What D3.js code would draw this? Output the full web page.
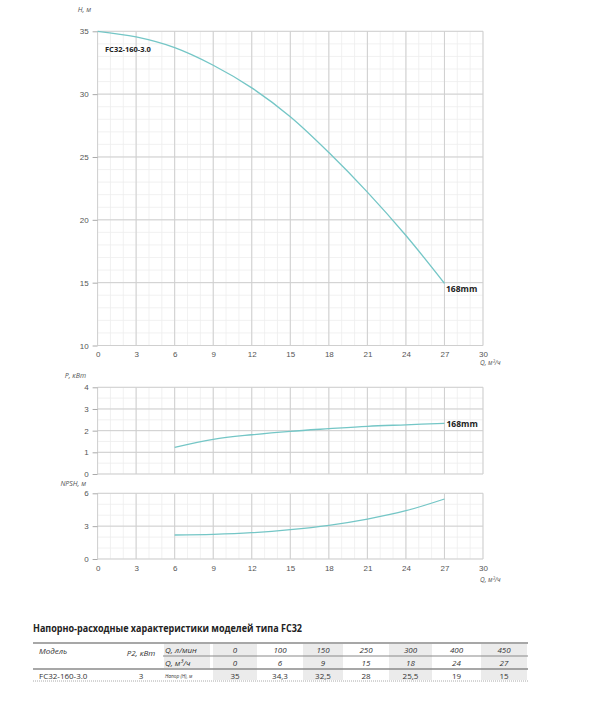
<!DOCTYPE html>
<html>
<head>
<meta charset="utf-8">
<script src="https://cdn.jsdelivr.net/npm/d3@7"></script>
<style>
  body { margin: 0; background: #fff; }
  svg { display: block; font-family: "Open Sans", "Noto Sans", sans-serif; }
</style>
</head>
<body>
<div id="chart"></div>
<script>
// Curve readings (Q in m3/h)
var flowQ = [0, 3, 6, 9, 12, 15, 18, 21, 24, 27];
var headH = [35, 34.55, 33.7, 32.3, 30.5, 28.2, 25.35, 22.2, 18.75, 14.95];
var powerQ = [6, 9, 12, 15, 18, 21, 24, 27];
var powerP = [1.23, 1.6, 1.81, 1.97, 2.09, 2.2, 2.27, 2.34];
var npshQ = [6, 9, 12, 15, 18, 21, 24, 27];
var npshH = [2.19, 2.25, 2.4, 2.68, 3.08, 3.65, 4.41, 5.48];

var xTicks = [0, 3, 6, 9, 12, 15, 18, 21, 24, 27, 30];
var headTicks = [10, 15, 20, 25, 30, 35];
var powerTicks = [0, 1, 2, 3, 4];
var npshTicks = [0, 3, 6];

// Table
var tableTitle = "Напорно-расходные характеристики моделей типа FC32";
var tableFlowLmin = ["0", "100", "150", "250", "300", "400", "450"];
var tableFlowM3h = ["0", "6", "9", "15", "18", "24", "27"];
var tableModel = "FC32-160-3.0";
var tablePower = "3";
var tableHead = ["35", "34,3", "32,5", "28", "25,5", "19", "15"];

var W = 614, H = 714;
var curveColor = "#74c6c6";

var svg = d3.select("#chart").append("svg")
  .attr("width", W).attr("height", H);
svg.append("rect").attr("width", W).attr("height", H).attr("fill", "#fff");

var x = d3.scaleLinear().domain([0, 30]).range([97.6, 483]);
var yHead = d3.scaleLinear().domain([10, 35]).range([345.5, 31.3]);
var yPow = d3.scaleLinear().domain([0, 4]).range([474, 387.3]);
var yNpsh = d3.scaleLinear().domain([0, 6]).range([559, 493.3]);

function grid(y, minorStep, majorTicks) {
  var g = svg.append("g");
  var y0 = y.domain()[0], y1 = y.domain()[1];
  var minorY = d3.range(y0, y1 + 1e-9, minorStep);
  var minorX = d3.range(0, 30.001, 1);
  g.selectAll(".mx").data(minorX).join("line")
    .attr("x1", x).attr("x2", x).attr("y1", y(y0)).attr("y2", y(y1))
    .attr("stroke", "#ededed").attr("stroke-width", 0.8);
  g.selectAll(".my").data(minorY).join("line")
    .attr("y1", y).attr("y2", y).attr("x1", x(0)).attr("x2", x(30))
    .attr("stroke", "#ededed").attr("stroke-width", 0.8);
  g.selectAll(".Mx").data(xTicks).join("line")
    .attr("x1", x).attr("x2", x).attr("y1", y(y0)).attr("y2", y(y1))
    .attr("stroke", "#cfcfcf").attr("stroke-width", 1);
  g.selectAll(".My").data(majorTicks).join("line")
    .attr("y1", y).attr("y2", y).attr("x1", x(0)).attr("x2", x(30))
    .attr("stroke", "#cfcfcf").attr("stroke-width", 1);

  var ax = svg.append("g").attr("transform", "translate(" + x(0) + ",0)")
    .call(d3.axisLeft(y).tickValues(majorTicks).tickFormat(d3.format("d"))
      .tickSize(5).tickPadding(4));
  ax.select(".domain").remove();
  ax.selectAll("line").attr("stroke", "#aaa");
  ax.selectAll("text").attr("fill", "#555").style("font-size", "8px");
}

function xAxis(yPos) {
  var ax = svg.append("g").attr("transform", "translate(0," + yPos + ")")
    .call(d3.axisBottom(x).tickValues(xTicks).tickFormat(d3.format("d"))
      .tickSize(0).tickPadding(6));
  ax.select(".domain").remove();
  ax.selectAll("text").attr("fill", "#555").style("font-size", "8px");
}

function curve(qs, vs, y) {
  var pts = qs.map(function (q, i) { return [q, vs[i]]; });
  svg.append("path").datum(pts)
    .attr("fill", "none").attr("stroke", curveColor).attr("stroke-width", 1.3)
    .attr("d", d3.line().x(function (d) { return x(d[0]); })
      .y(function (d) { return y(d[1]); }).curve(d3.curveCatmullRom));
}

function label(txt, px, py, opts) {
  opts = opts || {};
  return svg.append("text").attr("x", px).attr("y", py)
    .attr("text-anchor", opts.anchor || "start")
    .attr("fill", opts.fill || "#555")
    .style("font-size", (opts.size || 7) + "px")
    .style("font-style", opts.italic ? "italic" : "normal")
    .style("font-weight", opts.bold ? "bold" : "normal")
    .text(txt);
}

// Head chart
grid(yHead, 1, headTicks);
xAxis(yHead(10));
curve(flowQ, headH, yHead);
label("H, м", 91, 12, { anchor: "end", italic: true });
label("Q, м³/ч", 480, 365, { italic: true, size: 6.5 });
label("FC32-160-3.0", 105, 52, { size: 7.5, bold: true, fill: "#222" });
label("168mm", 446, 291.5, { size: 8.5, bold: true, fill: "#222" });

// Power chart
grid(yPow, 0.5, powerTicks);
curve(powerQ, powerP, yPow);
label("P, кВт", 86, 378, { anchor: "end", italic: true });
label("168mm", 446.5, 426.5, { size: 8.5, bold: true, fill: "#222" });

// NPSH chart
grid(yNpsh, 1, npshTicks);
xAxis(yNpsh(0));
curve(npshQ, npshH, yNpsh);
label("NPSH, м", 86, 485.5, { anchor: "end", italic: true });
label("Q, м³/ч", 480, 582, { italic: true, size: 6.5 });

// Table
label(tableTitle, 33, 632, { size: 10.5, bold: true, fill: "#222" })
  .attr("textLength", 269).attr("lengthAdjust", "spacingAndGlyphs");

var colEdges = [212, 258, 302, 344, 388, 433, 480, 528];
var rowTop = [643, 656, 669], rowBot = [656, 669, 681];
var tg = svg.append("g");
// shaded columns
colEdges.slice(0, -1).forEach(function (c, i) {
  if (i % 2 === 0 && i !== 1) {
    tg.append("rect").attr("x", c + 1).attr("y", rowTop[0] + 1)
      .attr("width", colEdges[i + 1] - c - 2).attr("height", rowBot[2] - rowTop[0] - 2)
      .attr("fill", "#ebebeb");
  }
});
tg.append("rect").attr("x", 164).attr("y", rowTop[0] + 1).attr("width", 46)
  .attr("height", rowBot[1] - rowTop[0] - 2).attr("fill", "#ebebeb");

tg.append("line").attr("x1", 33).attr("x2", 528).attr("y1", 643).attr("y2", 643)
  .attr("stroke", "#8a8a8a").attr("stroke-width", 1.6);
tg.append("line").attr("x1", 163).attr("x2", 528).attr("y1", 656).attr("y2", 656)
  .attr("stroke", "#8a8a8a").attr("stroke-width", 1.2);
tg.append("line").attr("x1", 33).attr("x2", 528).attr("y1", 669).attr("y2", 669)
  .attr("stroke", "#8a8a8a").attr("stroke-width", 1.6);
tg.append("line").attr("x1", 33).attr("x2", 528).attr("y1", 681).attr("y2", 681)
  .attr("stroke", "#aaa").attr("stroke-width", 1).attr("stroke-dasharray", "1,1");

function cell(txt, cx, cy, opts) {
  opts = opts || {};
  label(txt, cx, cy, { anchor: opts.anchor || "middle", italic: opts.italic,
    size: opts.size || 8, fill: "#333" });
}
cell("Модель", 39, 654, { anchor: "start", italic: true });
cell("P2, кВт", 141, 656, { italic: true });
cell("Q, л/мин", 165, 653, { anchor: "start", italic: true });
cell("Q, м³/ч", 165, 666, { anchor: "start", italic: true });
cell("Напор (H), м", 165, 678, { anchor: "start", italic: true, size: 4.8 });
cell(tableModel, 39, 678.5, { anchor: "start" });
cell(tablePower, 141, 678.5);
colEdges.slice(0, -1).forEach(function (c, i) {
  var cx = (c + colEdges[i + 1]) / 2;
  cell(tableFlowLmin[i], cx, 653, { italic: true });
  cell(tableFlowM3h[i], cx, 666, { italic: true });
  cell(tableHead[i], cx, 678.5);
});
</script>
</body>
</html>
